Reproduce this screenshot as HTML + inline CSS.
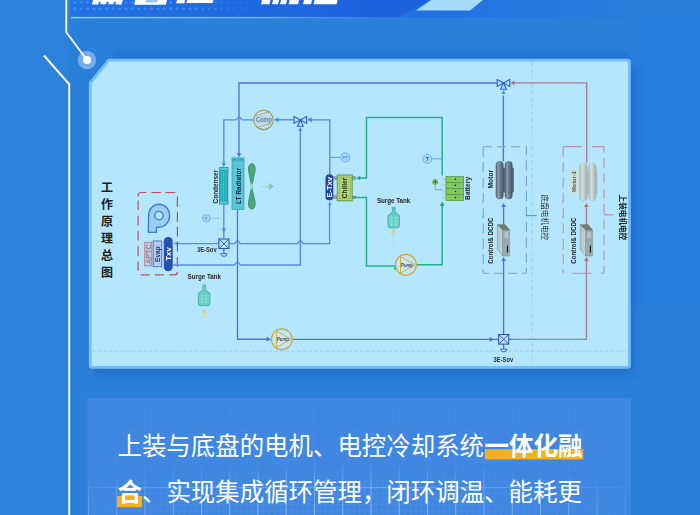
<!DOCTYPE html>
<html><head><meta charset="utf-8"><title>thermal</title>
<style>
html,body{margin:0;padding:0;background:#2a7fd9;}
body{width:700px;height:515px;overflow:hidden;font-family:"Liberation Sans","Noto Sans CJK SC",sans-serif;}
svg{display:block}
text{font-family:"Liberation Sans","Noto Sans CJK SC",sans-serif;}
.lb{font-weight:bold;font-size:6.5px;fill:#262626;}
</style></head><body>
<svg width="700" height="515" viewBox="0 0 700 515">
<defs>
<filter id="blur4" x="-10%" y="-10%" width="120%" height="130%"><feGaussianBlur stdDeviation="4"/></filter>
<filter id="blurT" x="-5%" y="-150%" width="110%" height="400%"><feGaussianBlur stdDeviation="3.5"/></filter>
<filter id="soft" x="-5%" y="-5%" width="110%" height="110%"><feGaussianBlur stdDeviation="0.55"/></filter>
<linearGradient id="hdr" x1="0" x2="1" y1="0" y2="0"><stop offset="0" stop-color="#2272e4"/><stop offset="1" stop-color="#1a60db"/></linearGradient>
<linearGradient id="hline" x1="0" x2="1" y1="0" y2="0"><stop offset="0" stop-color="#8fd2fd"/><stop offset="0.55" stop-color="#6db6f5"/><stop offset="1" stop-color="#3f8ae6" stop-opacity="0"/></linearGradient>
<linearGradient id="topshade" x1="0" x2="0" y1="0" y2="1"><stop offset="0" stop-color="#2a7fd9" stop-opacity="0"/><stop offset="1" stop-color="#1f6fd2" stop-opacity="0.9"/></linearGradient>
<pattern id="dots" x="71.6" y="-0.8" width="6.4" height="6.4" patternUnits="userSpaceOnUse"><circle cx="3.2" cy="3.2" r="1.25" fill="#4693f3"/></pattern>
<linearGradient id="dotfade" x1="0" x2="1" y1="0" y2="0"><stop offset="0" stop-color="#fff"/><stop offset="0.6" stop-color="#fff"/><stop offset="1" stop-color="#000"/></linearGradient>
<mask id="dotmask"><rect x="71" y="0" width="190" height="18" fill="url(#dotfade)"/></mask>
<pattern id="gmin" x="88" y="402.5" width="5.65" height="5.65" patternUnits="userSpaceOnUse"><path d="M0 0.3H5.65M0.3 0V5.65" stroke="#d5ebff" stroke-width="0.6" opacity="0.12" fill="none"/></pattern>
<pattern id="gmaj" x="88" y="430.7" width="28.25" height="28.25" patternUnits="userSpaceOnUse"><path d="M0 0.5H28.25M0.5 0V28.25" stroke="#c4e2ff" stroke-width="1" opacity="0.5" fill="none"/></pattern>
<radialGradient id="gfade" cx="0.47" cy="1.0" r="0.64" gradientTransform="translate(0 0.3) scale(1 0.7)"><stop offset="0" stop-color="#fff"/><stop offset="0.6" stop-color="#bbb"/><stop offset="1" stop-color="#111"/></radialGradient>
<mask id="gmask"><rect x="88" y="398" width="543" height="117" fill="url(#gfade)"/></mask>
<linearGradient id="mg1" x1="0" x2="1"><stop offset="0" stop-color="#526272"/><stop offset="0.3" stop-color="#8c9cab"/><stop offset="0.62" stop-color="#66778a"/><stop offset="1" stop-color="#44546a"/></linearGradient>
<linearGradient id="mg2" x1="0" x2="1"><stop offset="0" stop-color="#a6b7b7"/><stop offset="0.35" stop-color="#d6e1dc"/><stop offset="0.65" stop-color="#bccbc6"/><stop offset="1" stop-color="#9dafb0"/></linearGradient>
<linearGradient id="farr" x1="0" x2="1"><stop offset="0" stop-color="#8fd0a8" stop-opacity="0.15"/><stop offset="1" stop-color="#74c395"/></linearGradient>
<linearGradient id="cface" x1="0" x2="1"><stop offset="0" stop-color="#a9bcc2"/><stop offset="1" stop-color="#c9dadb"/></linearGradient>
</defs>

<rect width="700" height="515" fill="#2a7fd9"/>
<rect x="0" y="0" width="69" height="515" fill="#2c82db"/>
<defs><linearGradient id="hdr2" gradientUnits="userSpaceOnUse" x1="420" x2="640" y1="0" y2="0"><stop offset="0" stop-color="#2170e2"/><stop offset="0.5" stop-color="#2677df"/><stop offset="1" stop-color="#2a7fd9"/></linearGradient></defs>
<rect x="71" y="0" width="629" height="17.6" fill="url(#hdr2)"/>
<polygon points="71,0 430,0 396,17.6 71,17.6" fill="url(#hdr)"/>
<rect x="71" y="0" width="190" height="12" fill="url(#dots)" mask="url(#dotmask)"/>
<polygon points="431,0 483,0 470,10.6 416,10.6" fill="#a6dbfa"/>
<rect x="71" y="16.9" width="360" height="1.4" fill="url(#hline)"/>
<rect x="114" y="52" width="514" height="12" fill="#1c69cf" opacity="0.55" filter="url(#blurT)"/>
<path d="M93.0 0H99.2L98.21 4.5H92.01ZM101.4 0H106.8L105.85 4.3H100.45ZM109.2 0H114.2L113.25 4.3H108.25ZM116.4 0H122.6L121.61 4.5H115.41ZM93 0H122.6V1.8H93ZM135.2 0H167.0L165.94 4.8H134.14ZM177.0 0H185.0L184.30 3.2H176.30ZM187.0 0H213.4L212.74 3.0H186.34ZM262.0 0H270.5L269.55 4.3H261.05ZM273.0 0H279.0L278.05 4.3H272.05ZM281.0 0H287.0L286.05 4.3H280.05ZM289.5 0H299.0L298.05 4.3H288.55ZM304.0 0H312.0L311.05 4.3H303.05ZM314.5 0H337.5L336.55 4.3H313.55Z" fill="#fff"/>
<path d="M146 0H157.6L157 2.6H145.4Z" fill="#9cc4f6"/>
<path d="M66.3 0V32.3L87 60" stroke="#fff" stroke-width="1.8" fill="none"/>
<path d="M44 55.5L69.3 84.3V515" stroke="#fff" stroke-width="2" fill="none"/>
<path d="M70.8 86V515" stroke="#1f6fcf" stroke-width="0.8" opacity="0.5" fill="none"/>
<circle cx="87" cy="60" r="9.2" fill="#fff" opacity="0.36"/>
<circle cx="87" cy="60" r="4.1" fill="#fff"/>
<rect x="631" y="18" width="69" height="287" fill="#2880dd"/>
<defs><linearGradient id="rsh" x1="0" x2="1"><stop offset="0" stop-color="#1f72d3" stop-opacity="0.6"/><stop offset="0.7" stop-color="#2277d6" stop-opacity="0.4"/><stop offset="1" stop-color="#2277d6" stop-opacity="0"/></linearGradient></defs>
<rect x="631" y="64" width="16" height="241" fill="url(#rsh)"/>
<clipPath id="shclip"><rect x="94" y="70" width="606" height="330"/></clipPath>
<g clip-path="url(#shclip)"><path d="M108.8 60.2H627.4Q629.4 60.2 629.4 62.2V365.4Q629.4 367.4 627.4 367.4H92.2Q90.2 367.4 90.2 365.4V83Z" transform="translate(3,6)" fill="#1a5fc6" opacity="0.62" filter="url(#blur4)"/></g>
<path d="M108.8 60.2H627.4Q629.4 60.2 629.4 62.2V365.4Q629.4 367.4 627.4 367.4H92.2Q90.2 367.4 90.2 365.4V83Z" fill="#b4e7fd" stroke="#78bcf5" stroke-width="2.8" stroke-linejoin="round"/>
<text text-anchor="middle" font-size="12" font-weight="bold" fill="#1c1c1c" style="font-family:'Liberation Sans','Noto Sans CJK SC',sans-serif"><tspan x="106.9" y="192.4">工</tspan><tspan x="106.9" y="209.3">作</tspan><tspan x="106.9" y="226.2">原</tspan><tspan x="106.9" y="243.1">理</tspan><tspan x="106.9" y="260">总</tspan><tspan x="106.9" y="276.9">图</tspan></text>
<g id="diagram" fill="none" stroke-linecap="butt" stroke-linejoin="miter" filter="url(#soft)">
<path d="M532.3 62V365" stroke="#9cc6ea" stroke-width="0.8" stroke-dasharray="4.3 2.7"/>
<path d="M92 351.1H628" stroke="#9cc6ea" stroke-width="0.8" stroke-dasharray="3.7 2"/>
<path d="M239 154V83H497.3" stroke="#4a76de" stroke-width="1.35"/>
<path d="M239 157.4L236.6 153.0H241.4Z" fill="#4a76de" stroke="none"/>
<path d="M253.8 119.8H242.2C241 119.8 240.6 116.9 239 116.9C237.4 116.9 237 119.8 235.8 119.8H223.8V164" stroke="#548ae8" stroke-width="1.35"/>
<path d="M223.8 167.2L221.70000000000002 162.79999999999998H225.9Z" fill="#548ae8" stroke="none"/>
<path d="M293.4 119.8H277" stroke="#548ae8" stroke-width="1.35"/>
<path d="M274.2 119.8L278.4 117.3V122.3Z" fill="#4084ee" stroke="none"/>
<path d="M329.8 175V119.8H310.5" stroke="#548ae8" stroke-width="1.35"/>
<path d="M307.4 119.8L311.59999999999997 117.3V122.3Z" fill="#4084ee" stroke="none"/>
<path d="M329.8 157.4H340.5" stroke="#548ae8" stroke-width="0.9"/>
<path d="M300.3 131V265.5" stroke="#548ae8" stroke-width="1.35"/>
<path d="M223.8 203.8V238.6" stroke="#548ae8" stroke-width="1.35"/>
<path d="M223.8 232.4L221.60000000000002 228.6H226.0Z" fill="#548ae8" stroke="none"/>
<path d="M210 218.3H219.8" stroke="#7fbdf2" stroke-width="0.9"/>
<path d="M178 243.6H218.8M229 243.6H234.3C235.5 243.6 235.9 240.7 237.5 240.7C239.1 240.7 239.5 243.6 240.7 243.6H297.1C298.3 243.6 298.7 240.7 300.3 240.7C301.90000000000003 240.7 302.3 243.6 303.5 243.6H329.6V204" stroke="#548ae8" stroke-width="1.35"/>
<path d="M173.6 243.6L178.1 241.15V246.04999999999998Z" fill="#5090f0" stroke="none"/>
<path d="M329.8 201.4L327.90000000000003 204.8H331.7Z" fill="#548ae8" stroke="none"/>
<path d="M173 265H234.3C235.5 265 235.9 262.1 237.5 262.1C239.1 262.1 239.5 265 240.7 265H300.9" stroke="#548ae8" stroke-width="1.35"/>
<path d="M237.5 209.4V339.2H267.5" stroke="#4a76de" stroke-width="1.35"/>
<path d="M271.2 339.2L266.59999999999997 336.7V341.7Z" fill="#4a76de" stroke="none"/>
<path d="M292.4 339.3H498.6M509 339.4H513" stroke="#4a76de" stroke-width="1.35"/>
<path d="M494 339.4L489.6 337.0V341.79999999999995Z" fill="#4a76de" stroke="none"/>
<path d="M503.6 334V260.5" stroke="#4a76de" stroke-width="1.35"/>
<path d="M503.6 257.1L501.20000000000005 261.1H506.0Z" fill="#4a76de" stroke="none"/>
<path d="M503.6 226V206.5" stroke="#4a76de" stroke-width="1.35"/>
<path d="M503.6 203.1L501.20000000000005 207.1H506.0Z" fill="#4a76de" stroke="none"/>
<path d="M503.4 161.5V95.5" stroke="#4a76de" stroke-width="1.35"/>
<path d="M513 339.4H586.4V260.5" stroke="#a67f90" stroke-width="1.35"/>
<path d="M586.4 257.1L584.0 261.1H588.8Z" fill="#b46f7c" stroke="none"/>
<path d="M586.4 226V206.5" stroke="#a67f90" stroke-width="1.35"/>
<path d="M586.4 203.1L584.0 207.1H588.8Z" fill="#b46f7c" stroke="none"/>
<path d="M586.7 163V82.9H513.5" stroke="#a67f90" stroke-width="1.35"/>
<path d="M510.4 82.9L514.4 80.60000000000001V85.2Z" fill="#b5666f" stroke="none"/>
<path d="M359.5 178H366.5V117.6H442.2V175.4" stroke="#22b088" stroke-width="1.5"/>
<path d="M356 178L360.2 175.7V180.3Z" fill="#12b070" stroke="none"/>
<path d="M355.4 197.4H366.5V266H395" stroke="#22b088" stroke-width="1.5"/>
<path d="M393.6 269.6L395.6 265L397.6 269.6Z" fill="#12a874"/>
<path d="M416.4 264.7H442.2V205" stroke="#22b088" stroke-width="1.5"/>
<path d="M442.2 201.5L439.7 205.8H444.7Z" fill="#12b070" stroke="none"/>
<path d="M442.2 201V175.6" stroke="#a9cdf3" stroke-width="0.8"/>
<path d="M432 158.9H442.2" stroke="#5b9cea" stroke-width="0.9"/>
<path d="M204.5 310V319" stroke="#d3cf83" stroke-width="0.8"/>
<path d="M206 321.9H237" stroke="#d3dcc2" stroke-width="1" stroke-dasharray="4.2 3"/>
<path d="M202.7 313L204.5 309L206.3 313" stroke="#d0c66c" stroke-width="0.8" fill="#dcd596"/>
<path d="M393.5 233V248" stroke="#d3cf83" stroke-width="0.8" stroke-dasharray="4 2.4"/>
<path d="M392 251.7H367.5" stroke="#d3dcc2" stroke-width="1" stroke-dasharray="4.2 3"/>
<path d="M391.7 233L393.5 229L395.3 233" stroke="#d0c66c" stroke-width="0.8" fill="#dcd596"/>
<path d="M138.1 196.6V195.9A3.4 3.4 0 0 1 141.5 192.5H146.4M151.3 192.5H161.1M165.6 192.5H175.4M177.4 196.5V206.7M177.4 211.7V221.9M177.4 226.8V236.5M177.4 241.9V251.6M177.4 257V266.7M177.4 272A2.9 2.9 0 0 1 174.5 274.9H169.2M163.8 274.9H154.9M149.5 274.9H140.6M138.1 270.8V261.5M138.1 256.1V246.3M138.1 240.5V230.9M138.1 225.5V215.7M138.1 209.9V200.5" stroke="#b8505e" stroke-width="1.2"/>
<path d="M483.2 146.8L483.2 156.8M483.2 162.1L483.2 172.1M483.2 177.5L483.2 187.5M483.2 192.8L483.2 202.8M483.2 208.2L483.2 218.2M483.2 223.6L483.2 233.6M483.2 238.9L483.2 248.9M483.2 254.3L483.2 264.3M483.2 269.6L483.2 273.2M483.2 273.2L489.1 273.2M494.0 273.2L503.1 273.2M508.0 273.2L517.1 273.2M522.0 273.2L526.4 273.2M526.4 273.2L526.4 268.1M526.4 262.7L526.4 252.7M526.4 247.4L526.4 237.4M526.4 232.0L526.4 222.0M526.4 216.6L526.4 206.6M526.4 201.3L526.4 191.3M526.4 185.9L526.4 175.9M526.4 170.6L526.4 160.6M526.4 155.2L526.4 146.8M526.4 146.8L525.0 146.8M520.1 146.8L511.0 146.8M506.1 146.8L497.0 146.8M492.1 146.8L483.2 146.8" stroke="#74a0ec" stroke-width="1.1" stroke-linecap="butt"/>
<path d="M526.4 215.6H536.6" stroke="#6a92e4" stroke-width="1.1"/>
<path d="M563.2 146.8L563.2 156.8M563.2 162.1L563.2 172.1M563.2 177.5L563.2 187.5M563.2 192.8L563.2 202.8M563.2 208.2L563.2 218.2M563.2 223.6L563.2 233.6M563.2 238.9L563.2 248.9M563.2 254.3L563.2 264.3M563.2 269.6L563.2 273.2M604.0 273.2L604.0 265.5M604.0 260.1L604.0 250.1M604.0 244.7L604.0 234.7M604.0 229.4L604.0 219.4M604.0 214.0L604.0 204.0M604.0 198.7L604.0 188.7M604.0 183.3L604.0 173.3M604.0 167.9L604.0 157.9M604.0 152.6L604.0 146.8M563.2 146.6H582.3M592.1 146.6H604M572.4 273.2H591.5M601 273.2H604" stroke="#c090a6" stroke-width="1.1"/>
<path d="M604 214.8H613.2" stroke="#bc8a9e" stroke-width="1.1"/>
</g>
<g filter="url(#soft)">
<g stroke="#2f5ec9" stroke-width="1.15" fill="#b4e7fd" stroke-linejoin="miter"><path d="M294.0 116.6L300.3 120L294.0 123.4Z"/><path d="M306.6 116.6L300.3 120L306.6 123.4Z"/><path d="M297.40000000000003 126.2L300.3 120L303.2 126.2Z"/><path d="M298.2 131L300.3 127.3L302.40000000000003 131Z" fill="#4a86ea" stroke="none"/></g>
<g stroke="#2f5ec9" stroke-width="1.15" fill="#b4e7fd" stroke-linejoin="miter"><path d="M497.2 79.6L503.5 83L497.2 86.4Z"/><path d="M509.8 79.6L503.5 83L509.8 86.4Z"/><path d="M500.6 89.2L503.5 83L506.4 89.2Z"/><path d="M501.4 94L503.5 90.3L505.6 94Z" fill="#4a86ea" stroke="none"/></g>
<g stroke="#2a4aaa" stroke-width="1" fill="#b4e7fd"><rect x="218.9" y="239.0" width="10.1" height="9.6"/><path d="M218.9 239.0L229.0 248.60000000000002M229.0 239.0L218.9 248.60000000000002" fill="none" stroke-width="0.9"/><path d="M223.9 248.60000000000002V253.60000000000002" fill="none" stroke-width="0.9"/><path d="M220.8 253.60000000000002H227.0A3.1 2.8 0 0 1 220.8 253.60000000000002Z" fill="#c4e2fb" stroke-width="0.8"/></g>
<g stroke="#2a4aaa" stroke-width="1" fill="#b4e7fd"><rect x="498.7" y="334.5" width="10.1" height="9.6"/><path d="M498.7 334.5L508.8 344.1M508.8 334.5L498.7 344.1" fill="none" stroke-width="0.9"/><path d="M503.7 344.1V349.1" fill="none" stroke-width="0.9"/><path d="M500.59999999999997 349.1H506.8A3.1 2.8 0 0 1 500.59999999999997 349.1Z" fill="#c4e2fb" stroke-width="0.8"/></g>
<circle cx="206.3" cy="218.3" r="3.7" fill="#a6d8fb" stroke="#66aaf0" stroke-width="0.9"/><text x="206.3" y="219.88" text-anchor="middle" font-size="4.4" fill="#5a9ae4" font-weight="bold">P</text>
<circle cx="345.3" cy="157.4" r="4.6" fill="#a6d8fb" stroke="#66aaf0" stroke-width="0.9"/><text x="345.3" y="158.98" text-anchor="middle" font-size="4.4" fill="#4f86d6" font-weight="bold">PT</text>
<circle cx="427.4" cy="158.9" r="4.4" fill="#a6d8fb" stroke="#66aaf0" stroke-width="0.9"/><text x="427.4" y="160.70" text-anchor="middle" font-size="5" fill="#2c4c94" font-weight="bold">T</text>
<g><circle cx="263.5" cy="119.9" r="9.7" fill="#c3e3f5" stroke="#9b9a62" stroke-width="1.1"/><path d="M254.6 116L270.2 111.6M256.6 127.2L272.4 123.4" stroke="#a5a474" stroke-width="0.9" fill="none"/><rect x="255.4" y="115.6" width="16.6" height="8.6" rx="2" fill="#c0d4e8" opacity="0.85"/><text x="263.9" y="122.3" text-anchor="middle" font-size="6.6" fill="#3d5c84" textLength="15.8" lengthAdjust="spacingAndGlyphs">Comp</text></g>
<g><circle cx="281.8" cy="339.3" r="10.4" fill="#bfe7f7" stroke="#c9a52e" stroke-width="1.1"/><path d="M276.40000000000003 331.1L291.0 339.3L276.40000000000003 347.5Z" fill="#cbe6f0" stroke="#cfa732" stroke-width="0.9" stroke-linejoin="round"/><text x="282.90000000000003" y="341.1" text-anchor="middle" font-size="5" fill="#434a58" font-weight="bold" textLength="12" lengthAdjust="spacingAndGlyphs">Pump</text></g>
<g><circle cx="405.9" cy="264.8" r="10.4" fill="#bfe7f7" stroke="#c9a52e" stroke-width="1.1"/><path d="M400.5 256.6L415.09999999999997 264.8L400.5 273.0Z" fill="#cbe6f0" stroke="#cfa732" stroke-width="0.9" stroke-linejoin="round"/><text x="407.0" y="266.6" text-anchor="middle" font-size="5" fill="#434a58" font-weight="bold" textLength="12" lengthAdjust="spacingAndGlyphs">Pump</text></g>
<g><rect x="219.3" y="167.7" width="8.7" height="36.3" fill="#1fa9b6" stroke="#178c9b" stroke-width="0.6"/><path d="M221.4 171V201M223.7 171V201M226 171V201" stroke="#55cdd6" stroke-width="0.8"/><rect x="219.3" y="167.7" width="8.7" height="3" fill="#4fcfd6" stroke="#178c9b" stroke-width="0.5"/><rect x="219.3" y="201" width="8.7" height="3" fill="#4fcfd6" stroke="#178c9b" stroke-width="0.5"/></g>
<text class="lb" transform="translate(218.1 186.6) rotate(-90)" text-anchor="middle" textLength="33.6" lengthAdjust="spacingAndGlyphs">Condenser</text>
<g><rect x="232" y="157.9" width="12" height="51.4" fill="#5ac5d6" stroke="#3a9fb8" stroke-width="0.8"/><rect x="232.4" y="158.3" width="11.2" height="3.2" fill="#47b0c6" opacity="0.85"/><rect x="233.6" y="159" width="1.3" height="1.6" fill="#2f8fa8"/><rect x="241.2" y="159" width="1.3" height="1.6" fill="#2f8fa8"/></g>
<text class="lb" transform="translate(240.9 186) rotate(-90)" text-anchor="middle" style="fill:#182a40;font-size:6.6px" textLength="36.2" lengthAdjust="spacingAndGlyphs">LT Radiator</text>
<g fill="#46a878" stroke="#2a8359" stroke-width="0.8" stroke-linejoin="round"><path d="M251.7 186.6L248.5 170.5C248.1 166 249.8 163.7 251.8 163.7C253.8 163.7 255.5 166 255.1 170.5Z"/><path d="M251.7 186.6L248.5 202.4C248.1 206.8 249.8 209 251.8 209C253.8 209 255.5 206.8 255.1 202.4Z"/></g>
<path d="M251.7 183.4V189.8" stroke="#e8fff2" stroke-width="0.7"/>
<path d="M259.3 186H268.8V183.1L273.9 186.6L268.8 190.1V187.2H259.3Z" fill="url(#farr)"/>
<g stroke="#3f7ccc" stroke-width="1.35" fill="#9ccdf4" stroke-linejoin="round"><path d="M148.3 232.3L148.6 215.7A10.5 11.5 0 1 1 159.1 227.2H156.4V232.3Z"/><ellipse cx="158.9" cy="215.6" rx="4.2" ry="4.3" fill="#b4e2fb" stroke-width="1.3"/></g>
<rect x="144.7" y="242.4" width="7" height="23.4" fill="#cdc5da" stroke="#b08898" stroke-width="1"/>
<text transform="translate(150.7 254.1) rotate(-90)" text-anchor="middle" font-size="6.6" fill="#8c8894" font-weight="bold" textLength="19.6" lengthAdjust="spacingAndGlyphs">APTC</text>
<rect x="153.2" y="241" width="8.5" height="25.7" fill="#b4cbf6" stroke="#5474cc" stroke-width="1"/>
<text transform="translate(159.7 254.1) rotate(-90)" text-anchor="middle" font-size="6.4" fill="#2c3346" font-weight="bold" textLength="15.6" lengthAdjust="spacingAndGlyphs">Evap</text>
<rect x="163.8" y="236.9" width="8.9" height="34.4" rx="4.45" fill="#2650b2"/>
<text transform="translate(171 253.9) rotate(-90)" text-anchor="middle" font-size="7.6" fill="#fff" font-weight="bold" textLength="13.6" lengthAdjust="spacingAndGlyphs">Txv</text>
<rect x="325.5" y="174.3" width="7.8" height="26" rx="3.9" fill="#2444a6"/>
<text transform="translate(332 187.4) rotate(-90)" text-anchor="middle" font-size="7.4" fill="#fff" font-weight="bold" textLength="20.4" lengthAdjust="spacingAndGlyphs">E-Txv</text>
<g fill="#8fa0a6" stroke="#5e6d76" stroke-width="0.4"><rect x="333.3" y="176.8" width="3.8" height="2.5"/><rect x="333.3" y="195.8" width="3.8" height="2.5"/><rect x="352.2" y="176.7" width="3.2" height="2.6" fill="#7f97b0"/><rect x="352.2" y="196.1" width="3.2" height="2.6" fill="#4aa7a0"/></g>
<rect x="337.2" y="175" width="15" height="25.8" fill="#b5d77e" stroke="#5f8f44" stroke-width="0.9"/>
<rect x="339.2" y="177" width="11" height="21.8" fill="#add173" stroke="#7ba64a" stroke-width="0.5"/>
<text transform="translate(347.3 188) rotate(-90)" text-anchor="middle" font-size="6.5" fill="#1e2a12" font-weight="bold" textLength="20.4" lengthAdjust="spacingAndGlyphs">Chiller</text>
<g stroke="#38a59c" stroke-width="0.7" fill="#62cdc4" stroke-linejoin="round"><path d="M202.9 285.1H205.6V289.9L210.0 293.3V303.7Q210.0 305.7 208.0 305.7H200.4Q198.4 305.7 198.4 303.7V293.3L202.9 289.9Z"/><path d="M202.1 293.0V304.9M206.3 293.0V304.9M199.0 295.9H209.4M199.0 298.9H209.4M199.0 301.9H209.4" stroke="#a6ebe2" stroke-width="0.7" fill="none" opacity="0.8"/></g>
<g stroke="#38a59c" stroke-width="0.7" fill="#62cdc4" stroke-linejoin="round"><path d="M392.4 207.29999999999998H395.09999999999997V212.1L399.5 215.5V225.89999999999998Q399.5 227.89999999999998 397.5 227.89999999999998H389.9Q387.9 227.89999999999998 387.9 225.89999999999998V215.5L392.4 212.1Z"/><path d="M391.59999999999997 215.2V227.1M395.79999999999995 215.2V227.1M388.5 218.1H398.9M388.5 221.1H398.9M388.5 224.1H398.9" stroke="#a6ebe2" stroke-width="0.7" fill="none" opacity="0.8"/></g>
<text class="lb" x="204.3" y="279.3" text-anchor="middle" style="font-size:6.5px" textLength="33.4" lengthAdjust="spacingAndGlyphs">Surge Tank</text>
<text class="lb" x="393.6" y="203" text-anchor="middle" style="font-size:6.5px" textLength="33.4" lengthAdjust="spacingAndGlyphs">Surge Tank</text>
<text class="lb" x="206.8" y="251.7" text-anchor="middle" style="font-size:6.4px;fill:#333" textLength="19.6" lengthAdjust="spacingAndGlyphs">3E-Sov</text>
<text class="lb" x="503.4" y="361.8" text-anchor="middle" style="font-size:6.4px;fill:#333" textLength="19.6" lengthAdjust="spacingAndGlyphs">3E-Sov</text>
<circle cx="445" cy="179.30" r="1" fill="#cfe6f2" stroke="#7fae7a" stroke-width="0.4"/>
<rect x="446" y="176.30" width="17.6" height="6.05" fill="#82c962" stroke="#4f9440" stroke-width="0.7"/>
<circle cx="455.4" cy="179.30" r="0.8" fill="#16260e"/>
<circle cx="445" cy="185.38" r="1" fill="#cfe6f2" stroke="#7fae7a" stroke-width="0.4"/>
<rect x="446" y="182.38" width="17.6" height="6.05" fill="#82c962" stroke="#4f9440" stroke-width="0.7"/>
<circle cx="455.4" cy="185.38" r="0.8" fill="#16260e"/>
<circle cx="445" cy="191.46" r="1" fill="#cfe6f2" stroke="#7fae7a" stroke-width="0.4"/>
<rect x="446" y="188.46" width="17.6" height="6.05" fill="#82c962" stroke="#4f9440" stroke-width="0.7"/>
<circle cx="455.4" cy="191.46" r="0.8" fill="#16260e"/>
<circle cx="445" cy="197.54" r="1" fill="#cfe6f2" stroke="#7fae7a" stroke-width="0.4"/>
<rect x="446" y="194.54" width="17.6" height="6.05" fill="#82c962" stroke="#4f9440" stroke-width="0.7"/>
<circle cx="455.4" cy="197.54" r="0.8" fill="#16260e"/>
<text class="lb" transform="translate(470.2 188.4) rotate(-90)" text-anchor="middle" textLength="23" lengthAdjust="spacingAndGlyphs">Battery</text>
<path d="M435.2 184.4V189.8H442" stroke="#6f86a6" stroke-width="0.7" fill="none"/>
<circle cx="435.2" cy="181.9" r="2.6" fill="#86b454" stroke="#6a8f3a" stroke-width="0.6"/><circle cx="435.4" cy="181.9" r="0.85" fill="#1d2a1a"/>
<rect x="501.9" y="167.70000000000002" width="12" height="24.599999999999998" fill="#5c6c7e"/><rect x="495.9" y="161.3" width="7.5" height="37.8" rx="3.7" fill="url(#mg1)" stroke="#46566a" stroke-width="0.3"/><rect x="504.9" y="161.3" width="7.5" height="37.8" rx="3.7" fill="url(#mg1)" stroke="#46566a" stroke-width="0.3"/>
<rect x="585.6" y="169.4" width="12" height="24.599999999999998" fill="#b4c4c0"/><rect x="579.6" y="163" width="7.5" height="37.8" rx="3.7" fill="url(#mg2)" stroke="#98aaaa" stroke-width="0.3"/><rect x="588.6" y="163" width="7.5" height="37.8" rx="3.7" fill="url(#mg2)" stroke="#98aaaa" stroke-width="0.3"/>
<text class="lb" transform="translate(493.4 179.2) rotate(-90)" text-anchor="middle" textLength="18.6" lengthAdjust="spacingAndGlyphs">Motor</text>
<rect x="570.7" y="168.8" width="6.3" height="24.8" fill="#d3dfc6"/>
<text transform="translate(575.9 181.6) rotate(-90)" text-anchor="middle" font-size="5.8" fill="#585c58" font-weight="bold" textLength="21.2" lengthAdjust="spacingAndGlyphs">Motor-1</text>
<g stroke="#6b7a80" stroke-width="0.35"><path d="M497.3 224.4L502.6 229.9V256.1L497.3 249.1Z" fill="url(#cface)"/><path d="M502.6 229.9H509.7V256.1H502.6Z" fill="#9aabaf"/><path d="M497.3 224.4L505.3 224.6L509.7 229.9H502.6Z" fill="#747c6e"/><rect x="506.90000000000003" y="245.6" width="1.2" height="7" fill="#14191d" stroke="none"/><rect x="504.7" y="232" width="3.2" height="6" fill="#bccbd2" stroke="none" opacity="0.8"/></g>
<g stroke="#6b7a80" stroke-width="0.35"><path d="M580.2 224.4L585.5 229.9V256.1L580.2 249.1Z" fill="url(#cface)"/><path d="M585.5 229.9H592.6V256.1H585.5Z" fill="#9aabaf"/><path d="M580.2 224.4L588.2 224.6L592.6 229.9H585.5Z" fill="#747c6e"/><rect x="589.8000000000001" y="245.6" width="1.2" height="7" fill="#14191d" stroke="none"/><rect x="587.6" y="232" width="3.2" height="6" fill="#bccbd2" stroke="none" opacity="0.8"/></g>
<text class="lb" transform="translate(493.2 240.6) rotate(-90)" text-anchor="middle" textLength="46.2" lengthAdjust="spacingAndGlyphs">Control&amp; DCDC</text>
<text class="lb" transform="translate(576 240.6) rotate(-90)" text-anchor="middle" textLength="46.2" lengthAdjust="spacingAndGlyphs">Control&amp; DCDC</text>
<text transform="translate(541.6 194.6) rotate(90)" x="0" y="0" font-size="7.6" fill="#333" style="font-family:'Liberation Sans','Noto Sans CJK SC',sans-serif">底盘电机电控</text>
<text transform="translate(619.6 194.6) rotate(90)" x="0" y="0" font-size="7.6" font-weight="bold" fill="#222" style="font-family:'Liberation Sans','Noto Sans CJK SC',sans-serif">上装电机电控</text>
</g>
<rect x="87.4" y="397.8" width="543.6" height="118" fill="#4087e2"/>
<g mask="url(#gmask)"><rect x="87.6" y="397.8" width="543.4" height="118" fill="url(#gmin)"/><rect x="87.6" y="397.8" width="543.4" height="118" fill="url(#gmaj)"/></g>
<rect x="484.9" y="449.2" width="98.4" height="10.2" fill="#f6b01c"/>
<rect x="117.1" y="496" width="25" height="11.2" fill="#f6b01c"/>
<g font-size="24.45" fill="#fff" style="font-family:'Liberation Sans','Noto Sans CJK SC',sans-serif">
<text x="117.5" y="455">上装与底盘的电机、电控冷却系统</text>
<text x="484.6" y="455" font-weight="bold">一体化融</text>
<text x="117.5" y="500.6" font-weight="bold">合</text>
<text x="142" y="500.6">、实现集成循环管理，闭环调温、能耗更</text>
</g>
</svg></body></html>
